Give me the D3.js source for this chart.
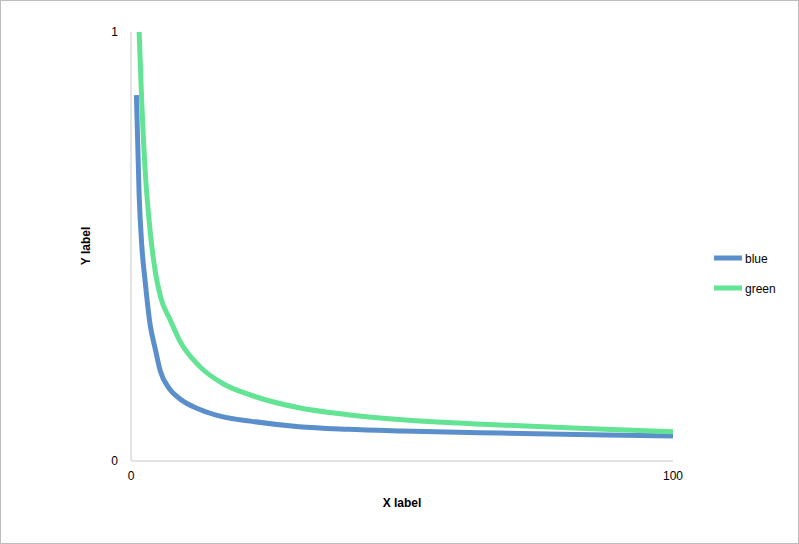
<!DOCTYPE html>
<html><head><meta charset="utf-8">
<script src="https://cdn.jsdelivr.net/npm/d3@7"></script>
<style>body{margin:0;background:#fff}</style>
</head><body>
<svg id="chart" width="799" height="544"></svg>
<script>
// Values
const seriesNames = ["blue", "green"];
const seriesColors = ["#5b8fcb", "#63e394"];
const blueX = [1, 1.5, 2, 2.6, 3.5, 4.5, 5.4, 7, 9, 12.7, 17, 22, 31, 40, 50, 68, 85, 100];
const blueY = [0.853, 0.62, 0.5, 0.42, 0.32, 0.26, 0.21, 0.17, 0.145, 0.12, 0.103, 0.093, 0.08, 0.074, 0.07, 0.065, 0.061, 0.058];
const greenX = [1.5, 2, 2.6, 3.5, 4.5, 5.5, 7.2, 9, 12.7, 17, 22, 31, 40, 50, 68, 85, 100];
const greenY = [1.0, 0.83, 0.68, 0.54, 0.44, 0.38, 0.33, 0.28, 0.22, 0.18, 0.154, 0.124, 0.108, 0.096, 0.084, 0.075, 0.068];
const xTicks = [0, 100];
const yTicks = [0, 1];

const svg = d3.select("#chart");
svg.append("rect").attr("x", 0.5).attr("y", 0.5).attr("width", 798).attr("height", 543)
  .attr("fill", "#fff").attr("stroke", "#bdbdbd");

const x = d3.scaleLinear().domain([0, 100]).range([131, 673]);
const y = d3.scaleLinear().domain([0, 1]).range([461, 32]);
const font = "Liberation Sans, Arial, sans-serif";

// axes
svg.append("line").attr("x1", 131).attr("x2", 131).attr("y1", 32).attr("y2", 461).attr("stroke", "#c8c8c8");
svg.append("line").attr("x1", 131).attr("x2", 673).attr("y1", 461).attr("y2", 461).attr("stroke", "#c8c8c8");
svg.selectAll(".xt").data(xTicks).enter().append("text")
  .attr("x", d => x(d)).attr("y", 480).attr("text-anchor", "middle")
  .style("font-family", font).style("font-size", "12px").text(d => d);
svg.selectAll(".yt").data(yTicks).enter().append("text")
  .attr("x", 118).attr("y", d => y(d) + 4).attr("text-anchor", "end")
  .style("font-family", font).style("font-size", "12px").text(d => d);
svg.append("text").attr("x", 402).attr("y", 507).attr("text-anchor", "middle")
  .style("font-family", font).style("font-size", "12px").attr("font-weight", "bold").text("X label");
svg.append("text").attr("transform", "translate(90,246) rotate(-90)").attr("text-anchor", "middle")
  .style("font-family", font).style("font-size", "12px").attr("font-weight", "bold").text("Y label");

const line = d3.line().x(d => x(d[0])).y(d => y(d[1])).curve(d3.curveMonotoneX);
const data = [d3.zip(blueX, blueY), d3.zip(greenX, greenY)];
svg.selectAll(".series").data(data).enter().append("path")
  .attr("d", line).attr("fill", "none")
  .attr("stroke", (d, i) => seriesColors[i]).attr("stroke-width", 5);

// legend
const lg = svg.selectAll(".lg").data(seriesNames).enter().append("g")
  .attr("transform", (d, i) => `translate(714,${258 + i * 30})`);
lg.append("line").attr("x1", 0).attr("x2", 28).attr("stroke", (d, i) => seriesColors[i]).attr("stroke-width", 5);
lg.append("text").attr("x", 31).attr("y", 5).style("font-family", font).style("font-size", "12px").text(d => d);
</script>
</body></html>
